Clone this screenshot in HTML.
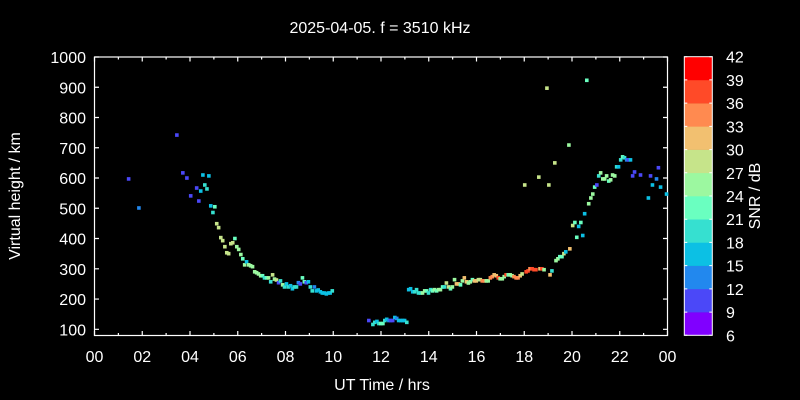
<!DOCTYPE html>
<html><head><meta charset="utf-8"><style>
html,body{margin:0;padding:0;background:#000;}
svg{display:block;font-family:"Liberation Sans",sans-serif;}
</style></head><body>
<svg id="chart" width="800" height="400" xmlns="http://www.w3.org/2000/svg">
<rect x="0" y="0" width="800" height="400" fill="#000"/>
<text x="380" y="33" fill="#fff" font-size="16" text-anchor="middle">2025-04-05. f = 3510 kHz</text>
<text x="382" y="390" fill="#fff" font-size="16" text-anchor="middle">UT Time / hrs</text>
<text transform="translate(20,196) rotate(-90)" fill="#fff" font-size="16" text-anchor="middle">Virtual height / km</text>
<text transform="translate(760,196) rotate(-90)" fill="#fff" font-size="16" text-anchor="middle">SNR / dB</text>
<g id="axes"></g><g id="marks"></g><g id="cbar"></g>
</svg>
<script>
const xTickLabels=["00","02","04","06","08","10","12","14","16","18","20","22","00"];
const yTickValues=[100,200,300,400,500,600,700,800,900,1000];
const cbarLabels=[6,9,12,15,18,21,24,27,30,33,36,39,42];
const cbarColors=["#8000ff","#4b48f8","#2288ee","#0cc0e4","#36e0d0","#6affc0","#9cf8a0","#c6e48a","#f2c070","#ff8a50","#ff4a28","#ff0000"];
const hours=[1.43,1.86,3.45,3.70,3.87,4.28,4.03,4.37,4.54,4.79,4.62,4.45,4.71,4.87,5.04,4.96,5.12,5.20,5.29,5.37,5.46,5.54,5.62,5.71,5.79,5.88,5.96,6.04,6.13,6.21,6.29,6.37,6.46,6.54,6.62,6.71,6.79,6.87,6.96,7.04,7.12,7.21,7.29,7.38,7.46,7.54,7.62,7.71,7.79,7.88,7.96,8.04,8.12,8.21,8.29,8.37,8.46,8.54,8.62,8.71,8.79,8.87,8.96,9.04,9.12,9.21,9.29,9.37,9.46,9.54,9.62,9.71,9.79,9.87,9.96,
11.49,11.66,11.74,11.83,11.91,11.99,12.08,12.16,12.24,12.33,12.41,12.49,12.58,12.66,12.74,12.83,12.91,12.99,13.08,
13.16,13.24,13.33,13.41,13.49,13.57,13.66,13.74,13.83,13.91,13.99,14.08,14.16,14.24,14.33,14.41,14.49,14.58,14.66,14.74,14.83,14.91,14.99,15.08,15.16,15.24,15.33,15.41,15.49,15.58,15.66,15.74,15.83,15.91,15.99,16.08,16.16,16.24,16.33,16.41,16.49,16.58,16.66,16.74,16.83,16.91,16.99,17.08,17.16,17.24,17.33,17.41,17.49,17.57,17.66,17.74,17.83,17.91,18.08,18.16,18.24,18.33,18.41,18.49,18.66,18.74,18.83,19.08,19.16,19.33,19.41,19.49,19.58,19.66,19.74,19.91,20.03,20.12,20.20,20.28,20.37,20.45,20.53,20.70,
18.95,20.62,19.87,19.28,18.61,18.02,19.03,20.79,20.87,20.95,21.04,21.12,21.20,21.29,21.37,21.45,21.54,21.62,21.70,21.79,21.87,21.95,22.04,22.12,22.20,22.29,22.37,22.45,22.62,22.54,22.87,23.29,23.62,23.54,23.37,23.71,23.20,23.96];
const heights=[597,501,742,617,600,567,541,524,610,607,577,557,564,508,505,486,449,436,403,393,373,353,350,383,386,400,373,364,347,333,313,323,313,310,307,290,287,283,277,277,270,270,270,257,280,266,263,254,260,247,240,250,240,244,234,240,240,254,250,270,257,254,257,240,227,240,227,230,224,220,220,217,220,220,227,
129,116,123,126,119,119,119,129,133,129,129,129,139,136,129,129,129,129,123,
231,234,224,224,231,220,220,220,227,227,220,231,227,231,227,231,231,240,240,253,240,234,240,264,250,250,247,260,270,257,253,257,264,260,260,264,264,260,260,260,260,270,274,280,277,270,267,267,274,280,280,280,277,274,270,270,277,283,290,293,300,300,297,297,300,300,297,280,293,327,333,340,340,350,356,366,443,453,404,440,453,410,482,515,
897,923,709,650,603,577,577,534,547,570,577,607,617,597,597,607,590,594,610,607,637,637,660,670,667,660,660,660,620,607,610,607,634,597,577,570,534,547];
const snrs=[11,14,11,11,11,11,11,11,17,17,20,17,19,17,23,20,28,28,28,28,27,28,28,27,27,21,24,24,26,22,26,15,24,24,24,24,26,24,26,21,20,21,24,20,27,26,27,11,20,24,20,17,20,15,17,20,20,14,11,22,22,11,15,20,20,14,15,15,15,17,17,17,15,15,20,
11,20,20,17,20,21,22,20,17,14,11,11,17,14,15,15,15,15,19,
15,15,15,20,18,18,18,24,24,21,19,20,23,24,21,26,26,21,20,27,27,21,24,24,30,30,21,24,32,30,26,25,21,30,30,28,27,35,35,26,26,34,35,30,32,36,26,24,24,37,21,24,26,33,33,33,32,27,36,36,34,37,36,36,30,36,24,32,19,26,24,21,21,27,17,32,27,22,22,17,22,15,15,24,
27,22,25,28,28,28,28,24,26,22,11,18,26,24,24,24,22,24,24,24,20,17,20,22,20,14,11,17,11,11,11,11,11,14,15,15,17,15];
const X0=94.5,X1=667.5,Y0=57,Y1=335.5;
const xs=h=>X0+(X1-X0)*h/24;
const ys=v=>57+(1000-v)*(329.3-57)/900;
const NS="http://www.w3.org/2000/svg";
function mk(t,a,p){const e=document.createElementNS(NS,t);for(const k in a)e.setAttribute(k,a[k]);p.appendChild(e);return e;}
const ax=document.getElementById('axes');
const frame=mk('rect',{x:X0,y:Y0,width:X1-X0,height:Y1-Y0,fill:'none',stroke:'#fff','stroke-width':1.2},ax);


for(let h=0;h<=24;h++){const x=xs(h),L=h%2?2.5:4.5;
 const t=mk('path',{d:`M${x},${Y1}v${-L}M${x},${Y0}v${L}`,stroke:'#fff','stroke-width':1.2},ax);
 
 }
xTickLabels.forEach((s,i)=>{const t=mk('text',{x:xs(i*2),y:362,fill:'#fff','font-size':16,'text-anchor':'middle'},ax);t.textContent=s;
 
 });
yTickValues.forEach(v=>{const y=ys(v);
 const t=mk('path',{d:`M${X0},${y}h4.5M${X1},${y}h-4.5`,stroke:'#fff','stroke-width':1.2},ax);
 
 
 const l=mk('text',{x:86,y:y+6,fill:'#fff','font-size':16,'text-anchor':'end'},ax);l.textContent=v;
 
 });
const mg=document.getElementById('marks');
function col(s){let i=Math.floor((s-6)/3);i=Math.max(0,Math.min(11,i));return cbarColors[i];}
hours.forEach((h,i)=>{const r=mk('rect',{x:xs(h)-1.8,y:ys(heights[i])-1.8,width:3.6,height:3.6,fill:col(snrs[i])},mg);
 
 });
const cb=document.getElementById('cbar');const CT=56.7,CB=335.3,seg=(CB-CT)/12;
cbarColors.forEach((c,i)=>{const r=mk('rect',{x:684.3,y:CB-(i+1)*seg,width:28,height:seg+0.3,fill:c},cb);
 
 });
const cf=mk('rect',{x:684.3,y:CT,width:28,height:CB-CT,fill:'none',stroke:'#fff','stroke-width':1},cb);


cbarLabels.forEach((v,i)=>{const y=CB-i*seg;
 const t=mk('path',{d:`M684.3,${y}h3M712.3,${y}h-3`,stroke:'#fff','stroke-width':1},cb);
 
 
 const l=mk('text',{x:726,y:y+6,fill:'#fff','font-size':16},cb);l.textContent=v;
 
 });
</script>
</body></html>
